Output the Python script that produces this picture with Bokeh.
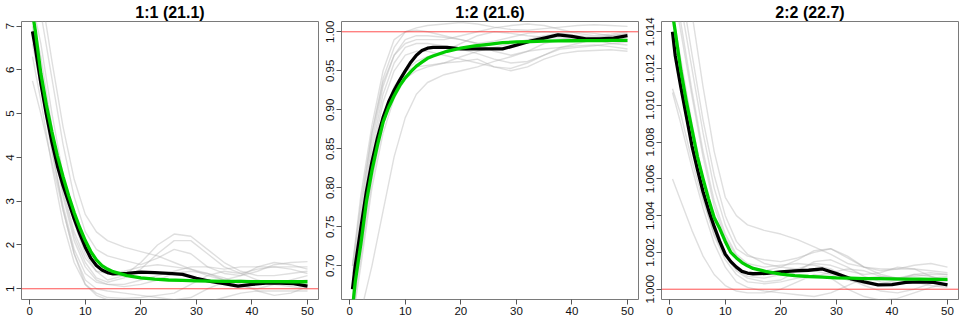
from bokeh.plotting import figure
from bokeh.layouts import row
from bokeh.models import Span, Range1d, FixedTicker, NumeralTickFormatter
from bokeh.embed import file_html
from bokeh.resources import INLINE

# ---------------- data ----------------
titles = ["1:1 (21.1)", "1:2 (21.6)", "2:2 (22.7)"]

x_fine = [0.5, 1, 2, 3, 4, 5, 6, 7, 8, 9, 10, 11, 12, 13, 14, 15, 17.5, 20, 22.5, 25,
          27.5, 30, 32.5, 35, 37.5, 40, 42.5, 45, 47.5, 50]
x_runs = [0.5, 2, 4, 6, 8, 10, 12, 14, 17, 20, 23, 26, 29, 32, 35, 38, 41, 44, 47, 50]

mean_11 = [6.88, 6.52, 5.7, 4.98, 4.35, 3.8, 3.36, 2.98, 2.6, 2.26, 1.95, 1.7, 1.53, 1.43, 1.37,
           1.34, 1.35, 1.38, 1.37, 1.35, 1.33, 1.24, 1.17, 1.12, 1.06, 1.1, 1.13, 1.13, 1.12, 1.06]
fit_11 = [7.3, 6.9, 5.92, 5.2, 4.58, 4.03, 3.56, 3.13, 2.74, 2.4, 2.1, 1.85, 1.66, 1.53, 1.45,
          1.39, 1.3, 1.25, 1.22, 1.2, 1.19, 1.18, 1.175, 1.17, 1.168, 1.165, 1.163, 1.162, 1.161, 1.16]
runs_11 = [
    [5.75, 5.0, 3.9, 2.8, 1.8, 1.1, 0.85, 0.75, 0.7, 0.7, 0.65, 0.6, 0.6, 0.7, 0.8, 0.9, 0.95, 0.95, 0.95, 0.95],
    [8.5, 7.8, 6.2, 4.7, 3.5, 2.7, 2.3, 2.1, 1.95, 1.85, 1.75, 1.6, 1.45, 1.3, 1.2, 1.3, 1.5, 1.6, 1.55, 1.45],
    [8.2, 7.3, 5.8, 4.3, 3.1, 2.3, 1.9, 1.75, 1.65, 1.55, 1.7, 1.9, 1.8, 1.5, 1.35, 1.3, 1.4, 1.55, 1.6, 1.62],
    [7.5, 6.6, 5.0, 3.6, 2.5, 1.8, 1.4, 1.2, 1.3, 1.6, 2.0, 2.25, 2.2, 1.9, 1.6, 1.4, 1.3, 1.3, 1.35, 1.4],
    [7.0, 6.0, 4.5, 3.2, 2.2, 1.6, 1.25, 1.15, 1.25, 1.45, 1.8, 2.1, 2.1, 1.8, 1.5, 1.35, 1.45, 1.5, 1.45, 1.35],
    [6.6, 5.6, 4.1, 2.9, 1.9, 1.35, 1.15, 1.1, 1.1, 1.2, 1.3, 1.4, 1.5, 1.5, 1.45, 1.5, 1.5, 1.5, 1.5, 1.5],
    [6.8, 5.8, 4.2, 2.8, 1.8, 1.2, 1.0, 0.95, 0.9, 0.85, 0.8, 0.75, 0.8, 1.0, 1.15, 1.2, 1.15, 1.1, 1.05, 1.0],
    [7.2, 6.3, 4.7, 3.3, 2.3, 1.7, 1.4, 1.35, 1.4, 1.5, 1.55, 1.5, 1.45, 1.35, 1.2, 1.05, 1.0, 1.1, 1.2, 1.3],
    [6.9, 5.9, 4.4, 3.1, 2.1, 1.5, 1.2, 1.1, 1.05, 1.1, 1.2, 1.35, 1.4, 1.35, 1.25, 1.1, 0.95, 0.85, 0.9, 1.05],
    [6.3, 5.3, 3.8, 2.5, 1.6, 1.1, 0.9, 0.8, 0.78, 0.8, 0.85, 0.9, 1.1, 1.3, 1.4, 1.35, 1.2, 1.1, 1.15, 1.2],
]

mean_12 = [0.670, 0.700, 0.748, 0.795, 0.833, 0.864, 0.89, 0.91, 0.925, 0.938, 0.950, 0.961, 0.970,
           0.976, 0.979, 0.980, 0.980, 0.978, 0.978, 0.978, 0.978, 0.983, 0.988, 0.992, 0.996, 0.994,
           0.991, 0.991, 0.992, 0.995]
fit_12 = [0.645, 0.68, 0.728, 0.782, 0.822, 0.855, 0.884, 0.903, 0.918, 0.931, 0.941, 0.949, 0.956,
          0.961, 0.966, 0.969, 0.975, 0.979, 0.982, 0.984, 0.986, 0.987, 0.9875, 0.988, 0.9883,
          0.9885, 0.9887, 0.9888, 0.9889, 0.989]
runs_12 = [
    [0.62, 0.64, 0.70, 0.77, 0.84, 0.89, 0.92, 0.935, 0.945, 0.95, 0.955, 0.962, 0.968, 0.975, 0.978, 0.98, 0.982, 0.983, 0.981, 0.978],
    [0.70, 0.78, 0.87, 0.94, 0.98, 1.0, 1.005, 1.008, 1.01, 1.012, 1.01, 1.006, 1.003, 1.002, 1.004, 1.006, 1.008, 1.009, 1.008, 1.007],
    [0.68, 0.76, 0.86, 0.93, 0.97, 0.99, 0.995, 0.995, 0.993, 0.99, 0.985, 0.975, 0.97, 0.975, 0.985, 0.99, 0.992, 0.99, 0.985, 0.983],
    [0.66, 0.74, 0.84, 0.91, 0.95, 0.97, 0.975, 0.975, 0.97, 0.965, 0.96, 0.955, 0.953, 0.96, 0.97, 0.98, 0.985, 0.99, 0.992, 0.99],
    [0.69, 0.77, 0.87, 0.935, 0.97, 0.985, 0.99, 0.99, 0.99, 0.995, 1.0, 1.005, 1.008, 1.01, 1.008, 1.003, 0.998, 0.995, 0.997, 1.0],
    [0.65, 0.72, 0.82, 0.89, 0.93, 0.95, 0.955, 0.957, 0.96, 0.962, 0.965, 0.955, 0.95, 0.955, 0.965, 0.972, 0.975, 0.976, 0.977, 0.975],
    [0.67, 0.75, 0.85, 0.92, 0.96, 0.98, 0.985, 0.985, 0.982, 0.978, 0.972, 0.965, 0.96, 0.962, 0.97, 0.978, 0.98, 0.982, 0.985, 0.987],
    [0.64, 0.71, 0.81, 0.88, 0.925, 0.95, 0.962, 0.968, 0.975, 0.985, 0.995, 1.0, 0.998, 0.995, 0.993, 0.992, 0.99, 0.992, 0.995, 0.997],
    [0.70, 0.79, 0.88, 0.95, 0.99, 1.0, 1.002, 1.0, 0.995, 0.99, 0.985, 0.988, 0.993, 0.998, 1.0, 0.998, 0.995, 0.993, 0.995, 0.998],
    [0.63, 0.70, 0.80, 0.87, 0.915, 0.94, 0.95, 0.955, 0.96, 0.968, 0.975, 0.98, 0.985, 0.99, 0.995, 0.998, 1.0, 0.998, 0.995, 0.99],
]

mean_22 = [1.0140, 1.0127, 1.0110, 1.0094, 1.0078, 1.0065, 1.0053, 1.0043, 1.0034, 1.0026, 1.0019,
           1.0015, 1.0012, 1.00097, 1.00088, 1.00084, 1.00086, 1.00094, 1.00100, 1.00103, 1.00110,
           1.00085, 1.00058, 1.00040, 1.00024, 1.00025, 1.00037, 1.00040, 1.00037, 1.00023]
fit_22 = [1.0150, 1.0140, 1.0119, 1.0102, 1.0087, 1.0072, 1.0060, 1.0049, 1.0039, 1.0033, 1.0026,
          1.0020, 1.0017, 1.00145, 1.00127, 1.00113, 1.00095, 1.00082, 1.00074, 1.00069, 1.00066,
          1.00062, 1.00060, 1.00058, 1.00057, 1.00056, 1.00055, 1.00055, 1.00054, 1.00054]
runs_22 = [
    [1.0200, 1.0180, 1.0150, 1.0110, 1.0075, 1.0050, 1.0040, 1.0035, 1.0032, 1.0030, 1.0027, 1.0023, 1.0019, 1.0014, 1.0012, 1.0011, 1.0011, 1.0011, 1.0010, 1.0009],
    [1.0180, 1.0155, 1.0120, 1.0085, 1.0055, 1.0035, 1.0022, 1.0018, 1.0016, 1.0015, 1.0017, 1.0020, 1.0022, 1.0018, 1.0012, 1.0008, 1.0006, 1.0007, 1.0008, 1.0008],
    [1.0109, 1.0095, 1.0070, 1.0048, 1.0030, 1.0018, 1.0010, 1.0006, 1.0004, 1.0005, 1.0010, 1.0015, 1.0016, 1.0012, 1.0007, 1.0004, 1.0003, 1.0004, 1.0006, 1.0007],
    [1.0107, 1.0090, 1.0066, 1.0044, 1.0025, 1.0012, 1.0004, 1.0001, 0.9999, 0.9998, 0.9997, 0.9996, 0.9998, 1.0002, 1.0006, 1.0007, 1.0006, 1.0004, 1.0002, 1.0001],
    [1.0060, 1.0048, 1.0032, 1.0018, 1.0008, 1.0002, 0.9999, 0.9998, 0.9998, 1.0000, 1.0004, 1.0008, 1.0006, 1.0000, 0.9996, 0.9994, 0.9995, 0.9998, 1.0001, 1.0003],
    [1.0165, 1.0140, 1.0105, 1.0072, 1.0045, 1.0028, 1.0018, 1.0013, 1.0010, 1.0012, 1.0016, 1.0021, 1.0022, 1.0017, 1.0012, 1.0010, 1.0011, 1.0013, 1.0014, 1.0012],
    [1.0190, 1.0165, 1.0128, 1.0092, 1.0062, 1.0040, 1.0026, 1.0019, 1.0014, 1.0012, 1.0011, 1.0010, 1.0008, 1.0005, 1.0003, 1.0003, 1.0005, 1.0008, 1.0007, 1.0005],
    [1.0150, 1.0125, 1.0090, 1.0060, 1.0036, 1.0020, 1.0011, 1.0007, 1.0006, 1.0008, 1.0011, 1.0014, 1.0013, 1.0010, 1.0008, 1.0009, 1.0012, 1.0011, 1.0007, 1.0004],
    [1.0170, 1.0145, 1.0108, 1.0075, 1.0048, 1.0030, 1.0019, 1.0014, 1.0012, 1.0013, 1.0014, 1.0013, 1.0011, 1.0006, 1.0002, 0.9999, 0.9998, 1.0000, 1.0003, 1.0005],
    [1.0135, 1.0110, 1.0078, 1.0050, 1.0029, 1.0016, 1.0008, 1.0004, 1.0003, 1.0004, 1.0006, 1.0007, 1.0009, 1.0011, 1.0010, 1.0007, 1.0006, 1.0008, 1.0009, 1.0008],
]

reference_level = 1.0
x_ticks = [0, 10, 20, 30, 40, 50]
y_ticks_11 = [1, 2, 3, 4, 5, 6, 7]
y_ticks_12 = [0.70, 0.75, 0.80, 0.85, 0.90, 0.95, 1.00]
y_ticks_22 = [1.000, 1.002, 1.004, 1.006, 1.008, 1.010, 1.012, 1.014]

# ---------------- layout ----------------
X_RANGE = (-1.48, 51.98)
Y_RANGES = [(0.755, 7.105), (0.6568, 1.0132), (0.99944, 1.01456)]
FMTS = ["0", "0.00", "0.000"]
FONT = "Liberation Sans"


def panel(title, yr, yticks, fmt, runs, mean, fit):
    p = figure(width=320, height=320, output_backend="svg", toolbar_location=None,
               x_range=Range1d(*X_RANGE), y_range=Range1d(*yr),
               min_border_left=21, min_border_right=2, min_border_top=21,
               min_border_bottom=21, background_fill_color="white",
               border_fill_color="white")
    p.title.text = title
    p.title.align = "center"
    p.title.text_font = FONT
    p.title.text_font_style = "bold"
    p.title.text_font_size = "16px"
    p.title.text_color = "black"
    p.title.standoff = 2
    p.grid.visible = False
    p.outline_line_color = "#7a7a7a"
    p.outline_line_width = 1
    for ax in (p.xaxis[0], p.yaxis[0]):
        ax.axis_line_color = None
        ax.major_tick_in = 0
        ax.major_tick_out = 5
        ax.minor_tick_line_color = None
        ax.major_tick_line_color = "#555555"
        ax.major_label_text_font = FONT
        ax.major_label_text_font_size = "11.5px"
        ax.major_label_text_color = "#111111"
        ax.major_label_standoff = 2
    p.xaxis.ticker = FixedTicker(ticks=x_ticks)
    p.xaxis.formatter = NumeralTickFormatter(format="0")
    p.yaxis.ticker = FixedTicker(ticks=yticks)
    p.yaxis.formatter = NumeralTickFormatter(format=fmt)
    p.yaxis.major_label_orientation = "vertical"

    for r in runs:
        p.line(x_runs, r, line_color="#b0b0b0", line_alpha=0.4, line_width=1.4,
               line_join="round")
    p.add_layout(Span(location=reference_level, dimension="width",
                      line_color="#ff3030", line_width=1, line_alpha=0.85))
    p.line(x_fine, mean, line_color="black", line_width=3.3, line_join="round")
    p.line(x_fine, fit, line_color="#00cd00", line_width=3.3, line_join="round")
    return p


panels = [
    panel(titles[0], Y_RANGES[0], y_ticks_11, FMTS[0], runs_11, mean_11, fit_11),
    panel(titles[1], Y_RANGES[1], y_ticks_12, FMTS[1], runs_12, mean_12, fit_12),
    panel(titles[2], Y_RANGES[2], y_ticks_22, FMTS[2], runs_22, mean_22, fit_22),
]
layout = row(*panels)
open("out.html", "w").write(file_html(layout, INLINE))
